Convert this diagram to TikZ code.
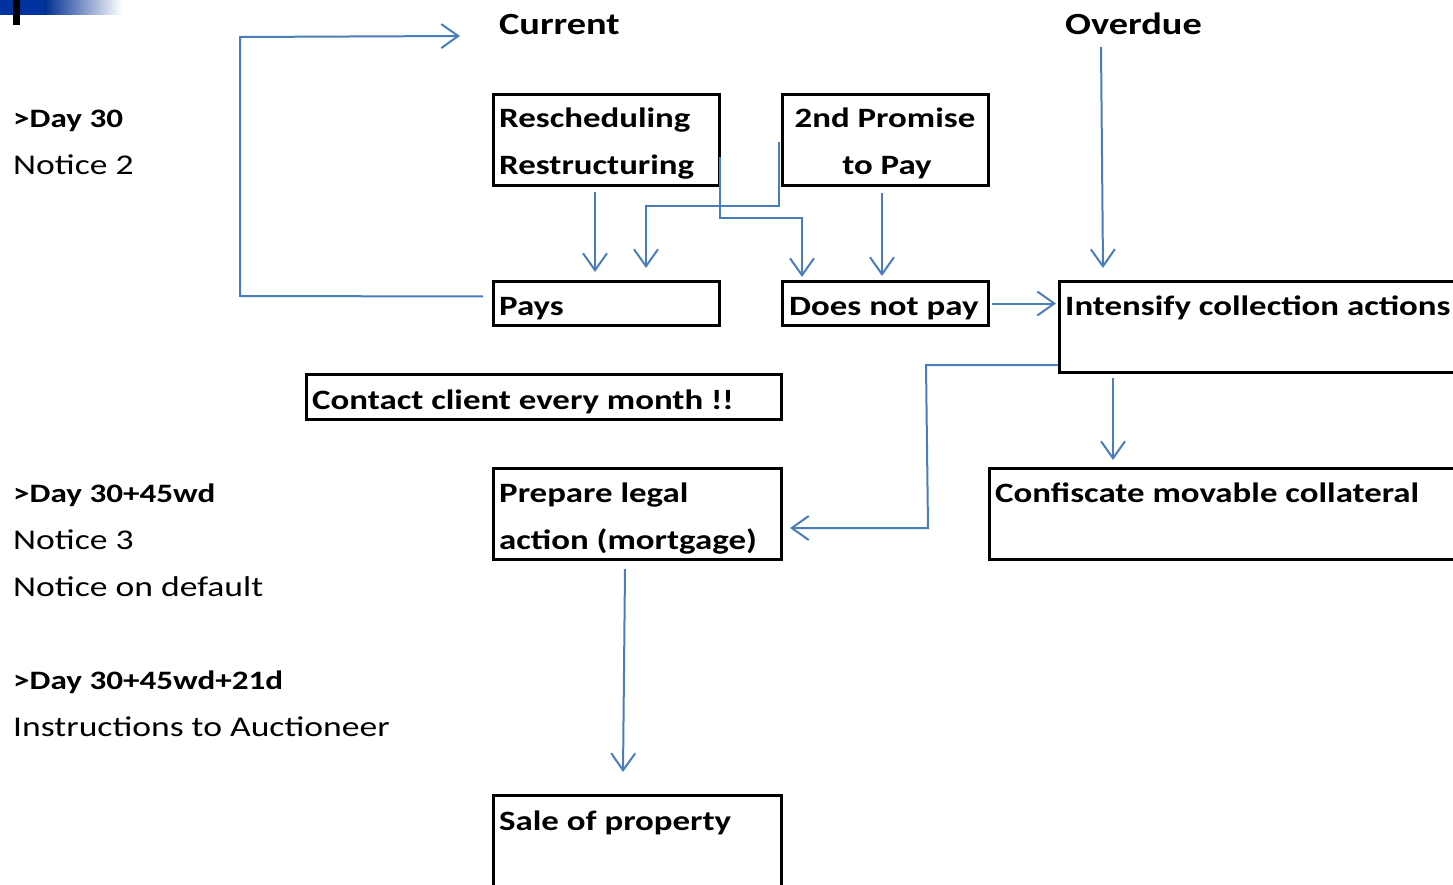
\documentclass[tikz,border=0pt]{standalone}
\usepackage{fontspec}
\setmainfont[FakeStretch=1.245]{Carlito}
\usetikzlibrary{arrows.meta}
\definecolor{lineblue}{HTML}{4A7EBB}
\definecolor{logoblue}{HTML}{0033A0}
\tikzset{
  box/.style={draw=black, line width=3pt, rectangle, inner sep=0pt},
  txt/.style={anchor=base west, inner sep=0pt, font=\fontsize{28}{34}\selectfont},
  btxt/.style={txt, font=\fontsize{28}{34}\selectfont\bfseries},
  lbtxt/.style={txt, font=\fontsize{26.6}{34}\selectfont\bfseries},
  ltxt/.style={txt, font=\fontsize{28.6}{34}\selectfont},
  htxt/.style={txt, font=\fontsize{30.8}{34}\selectfont\bfseries},
  conn/.style={draw=lineblue, line width=2pt},
  flow/.style={conn, -{Straight Barb[length=17pt,width=24pt]}},
}
\begin{document}
\begin{tikzpicture}[x=1pt,y=-1pt]
\useasboundingbox (0,0) rectangle (1453,885);
\clip (0,0) rectangle (1453,885);
% logo
\fill[logoblue] (0,0) rectangle (44,15);
\shade[left color=logoblue!90!black, right color=white] (44,0) rectangle (122,15);
\fill[black] (13,0) rectangle (20,25);

% boxes
\node[box, minimum width=226pt, minimum height=91pt, anchor=north west] (resch) at (492,93) {};
\node[box, minimum width=206pt, minimum height=91pt, anchor=north west] (prom) at (781,93) {};
\node[box, minimum width=226pt, minimum height=44pt, anchor=north west] (pays) at (492,280) {};
\node[box, minimum width=206pt, minimum height=44pt, anchor=north west] (dnp) at (781,280) {};
\node[box, minimum width=450pt, minimum height=91pt, anchor=north west] (intens) at (1058,280) {};
\node[box, minimum width=475pt, minimum height=45pt, anchor=north west] (contact) at (305,373) {};
\node[box, minimum width=288pt, minimum height=91pt, anchor=north west] (legal) at (492,467) {};
\node[box, minimum width=520pt, minimum height=91pt, anchor=north west] (confis) at (988,467) {};
\node[box, minimum width=288pt, minimum height=140pt, anchor=north west] (sale) at (492,794) {};

% headings
\node[htxt] (current) at (499,35) {Current};
\node[htxt] (overdue) at (1065,35) {Overdue};

% left texts
\node[lbtxt] (d30) at (13,128) {>Day 30};
\node[ltxt] (n2) at (13,175) {Notice 2};
\node[lbtxt] (d45) at (13,502) {>Day 30+45wd};
\node[ltxt] (n3) at (13,549) {Notice 3};
\node[ltxt] (nd) at (13,596) {Notice on default};
\node[lbtxt] (d21) at (13,689) {>Day 30+45wd+21d};
\node[ltxt] (ins) at (13,736) {Instructions to Auctioneer};

% box texts
\node[btxt] (t1) at (499,128) {Rescheduling};
\node[btxt] (t2) at (499,175) {Restructuring};
\node[btxt, anchor=base] (t3) at (885,128) {2nd Promise};
\node[btxt, anchor=base] (t4) at (887,175) {to Pay};
\node[btxt] (t5) at (499,315) {Pays};
\node[btxt] (t6) at (789,315) {Does not pay};
\node[btxt] (t7) at (1065,315) {Intensify collection actions};
\node[btxt] (t8) at (312,409) {Contact client every month !!};
\node[btxt] (t9) at (499,502) {Prepare legal};
\node[btxt] (t10) at (499,549) {action (mortgage)};
\node[btxt] (t11) at (995,502) {Confiscate movable collateral};
\node[btxt] (t12) at (499,830) {Sale of property};

% connectors
\coordinate (curarr) at (460,36);
\draw[flow] ([xshift=-9pt,yshift=7pt]pays.west) -- (240,296) -- (240,37) -- (curarr);
\draw[flow] (595,192) -- (595,272);
\draw[flow] (779,142) -- (779,206) -- (646,206) -- (646,268);
\draw[flow] (720,157) -- (720,218) -- (802,218) -- (802,277);
\draw[flow] (882,193) -- (882,276);
\draw[flow] ([xshift=2pt]dnp.east) -- ([xshift=-2pt]intens.west |- dnp.east);
\draw[flow] (1101,47) -- (1103,268);
\draw[flow] (1058,365) -- (926,365) -- (928,528) -- (790,528);
\draw[flow] (1113,378) -- (1113,460);
\draw[flow] (625,569) -- (623,772);
\end{tikzpicture}
\end{document}
